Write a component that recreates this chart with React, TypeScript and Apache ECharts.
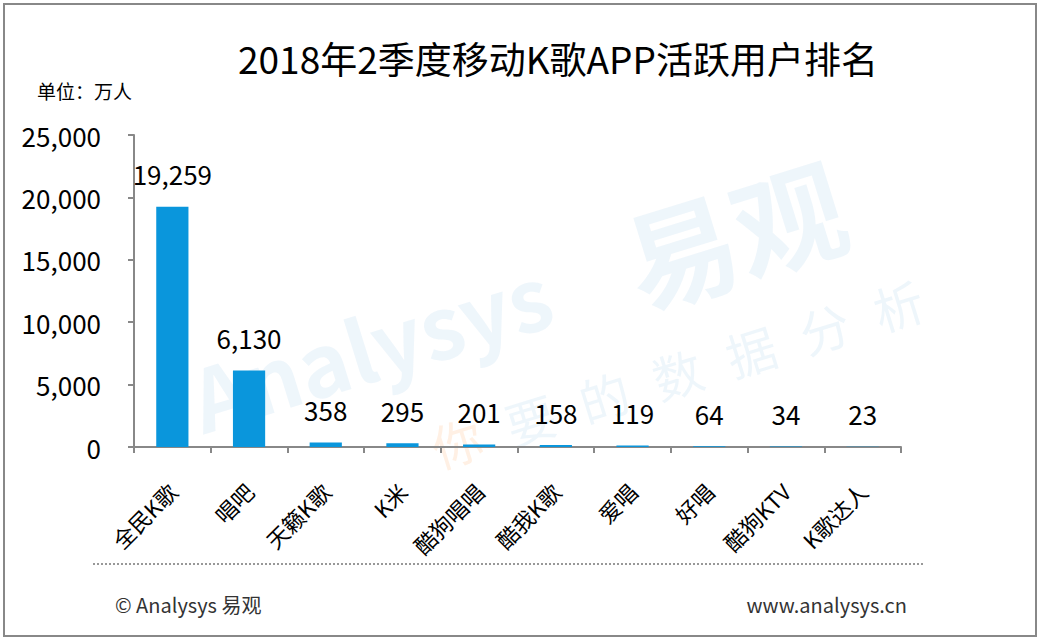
import React, { useEffect, useRef } from "react";
import * as echarts from "echarts";

const categories = ["全民K歌", "唱吧", "天籁K歌", "K米", "酷狗唱唱", "酷我K歌", "爱唱", "好唱", "酷狗KTV", "K歌达人"];
const users = [19259, 6130, 358, 295, 201, 158, 119, 64, 34, 23];
const yTicks = { min: 0, max: 25000, interval: 5000 };
const titleText = "2018年2季度移动K歌APP活跃用户排名";
const unitText = "单位：万人";
const sourceText = "© Analysys 易观";
const siteText = "www.analysys.cn";
const slogan = ["你", "要", "的", "数", "据", "分", "析"];

const FONT = "'Noto Sans CJK SC', 'Noto Sans', sans-serif";
const fmt = (v: number) => v.toLocaleString("en-US");

export default function App() {
  const ref = useRef<HTMLDivElement>(null);
  useEffect(() => {
    if (!ref.current) return;
    const chart = echarts.init(ref.current, undefined, { renderer: "svg" });
    const wmBlue = "rgba(0,115,200,0.065)";
    chart.setOption({
      animation: false,
      backgroundColor: "#fff",
      textStyle: { fontFamily: FONT },
      grid: { left: 134, right: 141, top: 135, bottom: 195 },
      xAxis: {
        type: "category",
        data: categories,
        axisLine: { lineStyle: { color: "#888", width: 2 } },
        axisTick: { show: true, length: 6, alignWithLabel: false, lineStyle: { color: "#888", width: 2 } },
        axisLabel: { rotate: 45, fontSize: 22, color: "#000", margin: 40, interval: 0, fontFamily: FONT },
      },
      yAxis: {
        type: "value",
        min: yTicks.min,
        max: yTicks.max,
        interval: yTicks.interval,
        splitLine: { show: false },
        axisLine: { show: true, lineStyle: { color: "#888", width: 2 } },
        axisTick: { show: true, length: 6, lineStyle: { color: "#888", width: 2 } },
        axisLabel: { fontSize: 26, color: "#000", margin: 33, formatter: (v: number) => fmt(v), fontFamily: FONT },
      },
      series: [
        {
          type: "bar",
          data: users,
          barWidth: "42%",
          itemStyle: { color: "#0A96DC" },
          label: {
            show: true,
            position: "top",
            distance: 20,
            fontSize: 26,
            color: "#000",
            fontFamily: FONT,
            formatter: (p: any) => fmt(p.value),
          },
          z: 3,
        },
      ],
      graphic: [
        {
          type: "group",
          x: 205,
          y: 440,
          rotation: 0.3,
          z: -1,
          silent: true,
          children: [
            {
              type: "text",
              x: 0,
              y: 0,
              style: { text: "Analysys", font: `bold 86px ${FONT}`, fill: wmBlue, textVerticalAlign: "bottom" },
            },
            {
              type: "text",
              x: 455,
              y: 12,
              style: { text: "易观", font: `bold 112px ${FONT}`, fill: wmBlue, textVerticalAlign: "bottom" },
            },
            ...slogan.map((ch, i) => ({
              type: "text",
              x: 215 + i * 77,
              y: 100,
              style: {
                text: ch,
                font: `50px ${FONT}`,
                fill: i === 0 ? "rgba(255,140,50,0.13)" : wmBlue,
                textVerticalAlign: "bottom",
              },
            })),
          ],
        },
        {
          type: "rect",
          shape: { x: 4, y: 4, width: 1032, height: 632 },
          style: { fill: "none", stroke: "#888", lineWidth: 2 },
          silent: true,
        },
        {
          type: "text",
          x: 558,
          y: 58,
          style: { text: titleText, font: `37px ${FONT}`, fill: "#000", textAlign: "center", textVerticalAlign: "middle" },
        },
        {
          type: "text",
          x: 37,
          y: 90,
          style: { text: unitText, font: `19px ${FONT}`, fill: "#000", textAlign: "left", textVerticalAlign: "middle" },
        },
        {
          type: "line",
          shape: { x1: 93, y1: 564, x2: 925, y2: 564 },
          style: { stroke: "#777", lineWidth: 1.5, lineDash: [2, 2] },
        },
        {
          type: "text",
          x: 115,
          y: 604,
          style: { text: sourceText, font: `20px ${FONT}`, fill: "#333", textAlign: "left", textVerticalAlign: "middle" },
        },
        {
          type: "text",
          x: 907,
          y: 604,
          style: { text: siteText, font: `20px ${FONT}`, fill: "#333", textAlign: "right", textVerticalAlign: "middle" },
        },
      ],
    });
    return () => chart.dispose();
  }, []);
  return (
    <div
      ref={ref}
      style={{ position: "absolute", left: 0, top: 0, width: 1042, height: 642 }}
    />
  );
}
